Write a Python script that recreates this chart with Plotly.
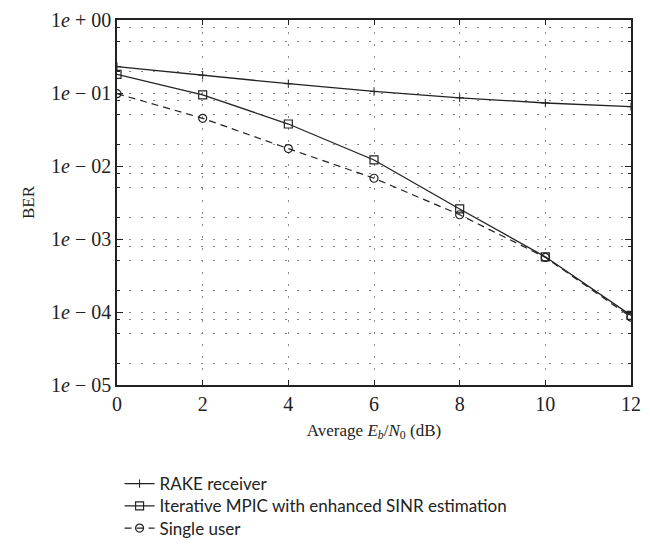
import plotly.graph_objects as go

# Data
snr_db = [0, 2, 4, 6, 8, 10, 12]
ber_rake = [0.23, 0.175, 0.134, 0.105, 0.086, 0.073, 0.065]
ber_mpic = [0.18, 0.094, 0.0376, 0.0121, 0.00258, 0.00057, 0.00009]
ber_single = [0.098, 0.045, 0.0173, 0.0068, 0.00215, 0.00056, 0.000085]

series_names = ["RAKE receiver", "Iterative MPIC with enhanced SINR estimation", "Single user"]

y_major_vals = [1, 1e-1, 1e-2, 1e-3, 1e-4, 1e-5]
y_major_text = ["1<i>e</i> + 00", "1<i>e</i> \u2212 01", "1<i>e</i> \u2212 02",
                "1<i>e</i> \u2212 03", "1<i>e</i> \u2212 04", "1<i>e</i> \u2212 05"]
y_minor_mantissas = [2, 5, 8]
y_minor_vals = [m * d for d in [1e-5, 1e-4, 1e-3, 1e-2, 1e-1] for m in y_minor_mantissas]
x_tick_vals = [0, 2, 4, 6, 8, 10, 12]

ink = "#222"
fig = go.Figure()
fig.add_trace(go.Scatter(x=snr_db, y=ber_rake, name=series_names[0], mode="lines+markers",
                         legend="legend",
                         line=dict(color=ink, width=1.3),
                         marker=dict(symbol="cross-thin", size=6, line=dict(color=ink, width=1))))
fig.add_trace(go.Scatter(x=snr_db, y=ber_mpic, name=series_names[1], mode="lines+markers",
                         legend="legend2",
                         line=dict(color=ink, width=1.3),
                         marker=dict(symbol="square-open", size=8, color=ink, line=dict(width=1.2))))
fig.add_trace(go.Scatter(x=snr_db, y=ber_single, name=series_names[2], mode="lines+markers",
                         legend="legend3",
                         line=dict(color=ink, width=1.2, dash="7px,5px"),
                         marker=dict(symbol="circle-open", size=8, color=ink, line=dict(width=1.2))))

grid_color = "#888"
grid_dash = "2px,10px"
fig.update_xaxes(range=[0, 12], tickvals=x_tick_vals, ticks="inside", ticklen=5, tickcolor=ink,
                 showline=True, linecolor=ink, linewidth=1.5, mirror="ticks",
                 showgrid=True, gridcolor=grid_color, griddash=grid_dash, gridwidth=1,
                 zeroline=False,
                 tickfont=dict(family="Liberation Serif", size=20, color=ink),
                 title=dict(text="Average <i>E<sub>b</sub></i>/<i>N</i><sub>0</sub> (dB)",
                            font=dict(family="Liberation Serif", size=17, color=ink), standoff=10))
fig.update_yaxes(type="log", range=[-5, 0], tickvals=y_major_vals, ticktext=y_major_text,
                 ticks="inside", ticklen=6, tickcolor=ink,
                 showline=True, linecolor=ink, linewidth=1.5, mirror="ticks",
                 showgrid=True, gridcolor=grid_color, griddash=grid_dash, gridwidth=1,
                 zeroline=False,
                 minor=dict(tickvals=y_minor_vals, ticks="inside", ticklen=3, tickcolor=ink,
                            showgrid=True, gridcolor=grid_color, griddash=grid_dash, gridwidth=1),
                 tickfont=dict(family="Liberation Serif", size=20, color=ink),
                 title=dict(text="BER", font=dict(family="Liberation Serif", size=17, color=ink),
                            standoff=12))

legend_style = dict(x=0.005, xanchor="left", yanchor="top",
                    font=dict(family="Lato", size=17, color=ink),
                    itemwidth=30, bgcolor="rgba(0,0,0,0)")
fig.update_layout(width=650, height=555, margin=dict(l=117, r=9, t=15, b=162),
                  paper_bgcolor="white", plot_bgcolor="white", showlegend=True,
                  legend=dict(y=-0.222, **legend_style),
                  legend2=dict(y=-0.283, **legend_style),
                  legend3=dict(y=-0.344, **legend_style))

fig.write_html("out.html", post_script="document.body.style.margin='0px';",
               config={"displayModeBar": False})
